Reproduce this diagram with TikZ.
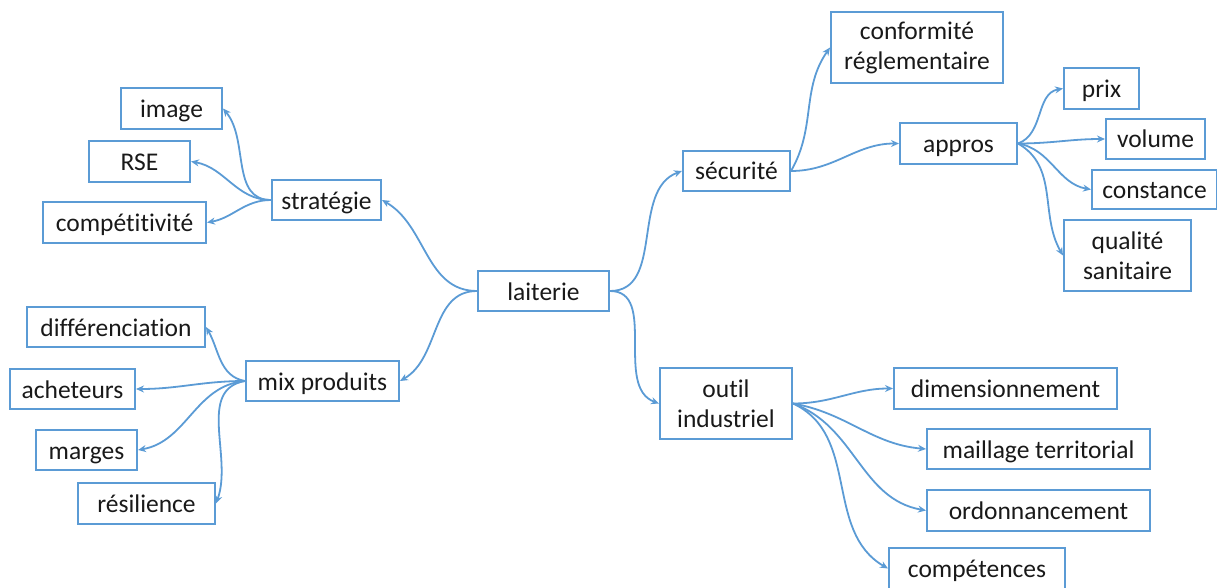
\documentclass[tikz,border=0pt]{standalone}
\usepackage{fontspec}
\setmainfont{Carlito}[Ligatures=NoCommon]
\usetikzlibrary{arrows.meta}
\definecolor{bl}{HTML}{5B9BD5}
\tikzset{
  bx/.style={draw=bl, line width=2pt, inner sep=0pt, align=center,
    font=\fontsize{25.5}{30}\selectfont, text=black!90},
  one/.style={text height=24pt, text depth=6pt},
  con/.style={draw=bl, line width=1.8pt, -{Stealth[length=8pt,width=7pt]}},
}
\newcommand\bxnode[7][one]{\node[bx,#1,minimum width=#5pt,minimum height=#6pt] (#2) at (#3,-#4) {#7};}
\begin{document}
\begin{tikzpicture}[x=1pt,y=1pt]
\useasboundingbox (0,0) rectangle (1217,-588);
% left
\bxnode{img}{171.5}{108.5}{101}{41}{image}
\bxnode{rse}{139.5}{161.5}{101}{41}{RSE}
\bxnode{comp}{124.5}{222.5}{163}{41}{compétitivité}
\bxnode{strat}{326.5}{200}{109}{40}{stratégie}
\bxnode{diff}{116}{327}{178}{40}{différenciation}
\bxnode{ach}{72.5}{389}{125}{40}{acheteurs}
\bxnode{marg}{86.5}{450}{101}{40}{marges}
\bxnode{res}{146.5}{503.5}{137}{41}{résilience}
\bxnode{mix}{322.5}{381}{153}{40}{mix produits}
% centre
\bxnode{lait}{543.5}{291}{131}{40}{laiterie}
% right top
\bxnode{sec}{736.5}{171}{107}{40}{sécurité}
\bxnode[]{conf}{917}{47.5}{172}{71}{conformité\\réglementaire}
\bxnode{appr}{958.5}{143.5}{117}{41}{appros}
\bxnode{prix}{1101.5}{88.5}{75}{41}{prix}
\bxnode{vol}{1155.5}{139}{99}{40}{volume}
\bxnode{cons}{1154.5}{189.5}{125}{39}{constance}
\bxnode[]{qual}{1127.5}{255.5}{127}{71}{qualité\\sanitaire}
% right bottom
\bxnode[]{outil}{726}{403.5}{132}{71}{outil\\industriel}
\bxnode{dim}{1005.5}{388.5}{223}{41}{dimensionnement}
\bxnode{mail}{1038.5}{449}{223}{40}{maillage territorial}
\bxnode{ord}{1038.5}{510.5}{223}{41}{ordonnancement}
\bxnode{compt}{977}{568.5}{176}{41}{compétences}
% connectors
\draw[con] (lait.west) to[out=180,in=-30] (strat.east);
\draw[con] (lait.west) to[out=180,in=30] (mix.east);
\draw[con] (strat.west) to[out=180,in=-50] (img.east);
\draw[con] (strat.west) to[out=180,in=-10] (rse.east);
\draw[con] (strat.west) to[out=180,in=10] (comp.east);
\draw[con] (mix.west) to[out=170,in=-60] (diff.east);
\draw[con] (mix.west) to[out=180,in=0] (ach.east);
\draw[con] (mix.west) to[out=185,in=10] (marg.east);
\draw[con] (mix.west) to[out=190,in=70] (res.east);
\draw[con] (lait.east) to[out=0,in=200] (sec.west);
\draw[con] (lait.east) to[out=0,in=160] (outil.west);
\draw[con] (sec.east) to[out=60,in=235] (conf.west);
\draw[con] (sec.east) to[out=0,in=180] (appr.west);
\draw[con] (appr.east) to[out=20,in=190] (prix.west);
\draw[con] (appr.east) to[out=0,in=180] (vol.west);
\draw[con] (appr.east) to[out=-10,in=170] (cons.west);
\draw[con] (appr.east) to[out=-30,in=120] (qual.west);
\draw[con] (outil.east) to[out=0,in=180] (dim.west);
\draw[con] (outil.east) to[out=-10,in=175] (mail.west);
\draw[con] (outil.east) to[out=-20,in=170] (ord.west);
\draw[con] (outil.east) to[out=-25,in=150] (compt.west);
\end{tikzpicture}
\end{document}
